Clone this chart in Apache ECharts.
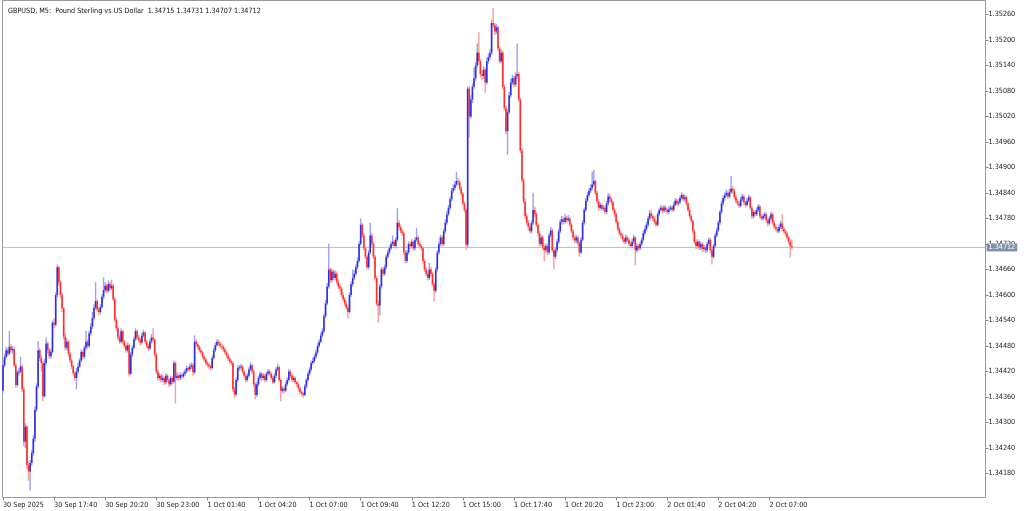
<!DOCTYPE html>
<html><head><meta charset="utf-8">
<script src="https://cdn.jsdelivr.net/npm/echarts@6/dist/echarts.min.js"></script>
<style>html,body{margin:0;padding:0;background:#fff}#c{width:1024px;height:511px}</style>
</head><body><div id="c"></div>
<script>
// GBPUSD M5 candles, values in 0.00001 above PRICE_BASE
const PRICE_BASE = 1.34;
const opens = [
375,435,455,470,462,478,470,473,435,388, 418,420,432,378,255,290,200,185,205,228,
262,330,385,470,452,440,362,440,486,470, 456,466,535,530,600,665,630,600,568,502,
476,490,462,446,432,416,405,420,432,446, 466,455,476,490,480,510,526,546,570,586,
566,560,572,596,612,622,610,626,616,622, 590,542,522,500,490,515,490,480,470,482,
415,460,476,496,515,500,495,488,505,512, 490,480,474,490,500,495,460,420,405,410,
400,405,395,410,400,390,405,396,440,405, 410,405,412,408,415,420,428,425,432,435,
418,490,484,478,470,465,455,448,440,436, 432,428,452,470,482,490,486,480,478,472,
465,458,450,444,440,378,366,400,428,430, 432,420,410,400,410,425,435,420,390,365,
390,405,415,405,410,400,415,420,415,405, 395,410,425,430,400,375,380,375,390,400,
420,410,400,405,395,390,380,372,368,365, 385,400,415,425,440,445,455,465,480,490,
505,515,550,580,620,660,635,655,640,650, 630,620,615,600,590,580,570,560,600,625,
640,650,665,680,720,765,740,710,690,665, 700,740,720,690,640,580,575,620,660,650,
665,690,700,710,720,725,715,730,770,760, 750,745,700,680,700,720,715,725,710,730,
735,720,715,710,680,660,650,640,660,650, 625,610,660,700,720,735,720,750,770,790,
805,825,845,852,860,868,865,850,838,815, 800,718,1085,1020,1060,1090,1110,1140,1170,1150,
1120,1115,1130,1100,1150,1160,1170,1240,1235,1220, 1230,1180,1150,1170,1090,1040,985,1030,1070,1100,
1110,1095,1115,1120,1060,940,870,820,785,770, 760,750,770,800,790,765,745,720,735,712,
705,715,700,740,752,705,690,705,725,750, 772,778,772,782,776,780,765,750,735,728,
735,722,700,730,770,800,822,835,845,852, 860,868,840,820,805,812,803,805,795,815,
832,825,818,800,790,772,755,745,740,732, 725,735,730,720,715,725,735,705,715,710,
720,730,745,755,765,780,792,785,780,772, 765,790,800,805,798,806,800,795,802,806,
800,812,822,815,818,828,835,825,830,815, 800,785,775,750,725,715,725,712,720,708,
712,705,720,730,705,690,715,740,752,770, 795,815,828,835,840,832,842,850,845,830,
822,815,810,825,832,818,812,822,830,805, 785,795,790,800,808,785,780,785,790,775,
768,780,790,770,760,755,750,760,768,755, 750,745,735,725,715
];
const closes = [
435,455,470,462,478,470,473,435,388,418, 420,432,378,255,290,200,185,205,228,262,
330,385,470,452,440,362,440,486,470,456, 466,535,530,600,665,630,600,568,502,476,
490,462,446,432,416,405,420,432,446,466, 455,476,490,480,510,526,546,570,586,566,
560,572,596,612,622,610,626,616,622,590, 542,522,500,490,515,490,480,470,482,415,
460,476,496,515,500,495,488,505,512,490, 480,474,490,500,495,460,420,405,410,400,
405,395,410,400,390,405,396,440,405,410, 405,412,408,415,420,428,425,432,435,418,
490,484,478,470,465,455,448,440,436,432, 428,452,470,482,490,486,480,478,472,465,
458,450,444,440,378,366,400,428,430,432, 420,410,400,410,425,435,420,390,365,390,
405,415,405,410,400,415,420,415,405,395, 410,425,430,400,375,380,375,390,400,420,
410,400,405,395,390,380,372,368,365,385, 400,415,425,440,445,455,465,480,490,505,
515,550,580,620,660,635,655,640,650,630, 620,615,600,590,580,570,560,600,625,640,
650,665,680,720,765,740,710,690,665,700, 740,720,690,640,580,575,620,660,650,665,
690,700,710,720,725,715,730,770,760,750, 745,700,680,700,720,715,725,710,730,735,
720,715,710,680,660,650,640,660,650,625, 610,660,700,720,735,720,750,770,790,805,
825,845,852,860,868,865,850,838,815,800, 718,1085,1020,1060,1090,1110,1140,1170,1150,1120,
1115,1130,1100,1150,1160,1170,1240,1235,1220,1230, 1180,1150,1170,1090,1040,985,1030,1070,1100,1110,
1095,1115,1120,1060,940,870,820,785,770,760, 750,770,800,790,765,745,720,735,712,705,
715,700,740,752,705,690,705,725,750,772, 778,772,782,776,780,765,750,735,728,735,
722,700,730,770,800,822,835,845,852,860, 868,840,820,805,812,803,805,795,815,832,
825,818,800,790,772,755,745,740,732,725, 735,730,720,715,725,735,705,715,710,720,
730,745,755,765,780,792,785,780,772,765, 790,800,805,798,806,800,795,802,806,800,
812,822,815,818,828,835,825,830,815,800, 785,775,750,725,715,725,712,720,708,712,
705,720,730,705,690,715,740,752,770,795, 815,828,835,840,832,842,850,845,830,822,
815,810,825,832,818,812,822,830,805,785, 795,790,800,808,785,780,785,790,775,768,
780,790,770,760,755,750,760,768,755,750, 745,735,725,715,712
];
const highs = [
448,462,478,476,516,484,480,476,440,424, 428,455,436,385,298,294,208,212,236,270,
338,392,492,476,458,445,450,500,490,475, 474,540,545,606,672,668,636,605,572,510,
498,494,466,450,436,420,428,440,452,472, 470,482,516,495,516,534,560,578,630,590,
572,578,602,642,630,626,634,630,636,626, 594,548,526,505,522,518,494,484,488,486,
466,482,502,522,518,506,500,512,518,515, 494,485,496,508,522,498,464,425,416,414,
412,408,416,414,404,410,408,446,444,418, 414,418,416,420,426,434,432,438,442,440,
505,496,488,482,474,468,458,452,444,440, 436,458,476,488,496,494,490,486,482,476,
468,462,454,448,444,384,406,434,436,438, 436,424,414,416,430,442,438,424,394,396,
410,420,418,416,414,420,426,424,418,410, 416,430,438,434,404,386,384,396,406,426,
424,414,410,408,398,394,384,376,372,390, 405,420,430,446,452,460,472,486,496,512,
522,556,588,628,721,665,662,660,658,655, 636,626,620,606,595,586,575,606,632,660,
658,672,688,726,780,770,745,714,694,706, 770,746,725,694,645,588,626,666,665,672,
696,706,716,726,740,730,736,804,776,766, 756,750,706,706,726,726,732,728,736,758,
740,726,720,714,685,665,656,675,666,655, 630,666,706,726,742,740,756,778,798,812,
832,852,860,868,890,875,870,855,842,820, 805,1090,1092,1070,1098,1135,1148,1192,1218,1155,
1128,1138,1135,1158,1168,1178,1248,1276,1240,1238, 1234,1186,1178,1175,1095,1046,1036,1078,1108,1118,
1115,1124,1192,1125,1064,946,876,826,792,776, 766,776,840,808,795,770,750,742,740,718,
722,720,746,760,756,710,712,732,756,778, 786,784,790,786,788,784,770,755,740,742,
740,726,736,776,806,828,842,852,860,890, 895,872,845,825,818,816,812,810,822,840,
838,830,822,805,795,776,760,750,745,736, 742,740,734,725,732,742,738,722,720,726,
736,752,762,772,786,800,798,790,785,776, 796,806,812,810,812,810,804,808,812,810,
818,828,826,825,834,842,838,836,834,818, 805,790,778,755,730,732,728,726,724,718,
716,726,736,734,710,720,746,758,776,800, 822,834,842,848,845,850,880,856,850,835,
826,820,832,838,836,822,828,836,834,810, 800,800,806,814,812,790,792,796,794,780,
786,796,794,775,766,760,766,774,790,762, 755,750,740,730,731
];
const lows = [
370,430,450,455,458,465,462,430,382,384, 410,416,372,245,240,190,163,140,198,222,
255,325,380,445,420,350,358,435,462,450, 450,462,522,526,595,622,594,560,495,470,
470,455,440,426,410,398,378,415,428,442, 448,450,470,474,476,505,520,540,565,560,
552,555,568,590,606,604,605,610,612,585, 536,515,494,484,486,484,474,464,465,408,
412,455,472,492,494,488,482,484,500,485, 475,468,470,486,490,455,414,398,400,394,
396,388,390,395,384,386,390,392,345,400, 398,400,402,404,410,416,420,420,426,410,
414,478,472,465,460,450,442,435,430,426, 422,425,448,466,478,480,475,472,466,460,
452,445,438,434,372,358,362,395,422,424, 414,404,394,396,406,420,414,384,355,360,
385,400,398,400,394,396,410,410,400,390, 392,405,420,395,350,370,368,372,386,396,
404,394,396,390,384,375,366,362,358,362, 380,396,410,420,436,440,450,460,476,486,
500,510,545,576,615,628,630,634,635,625, 614,608,595,584,574,565,545,556,596,620,
635,645,660,676,716,734,704,684,660,660, 695,714,684,634,574,535,552,615,644,645,
660,685,695,705,715,710,710,726,754,745, 738,694,674,675,695,708,710,704,705,725,
715,710,704,674,654,644,634,635,644,620, 585,605,655,695,715,714,716,745,765,785,
800,820,840,846,855,858,845,832,810,794, 705,712,970,1015,1052,1085,1104,1135,1142,1112,
1105,1108,1075,1095,1144,1154,1165,1228,1212,1214, 1174,1144,1145,1084,1034,978,930,1025,1064,1094,
1088,1090,1108,1054,934,864,814,778,764,752, 744,745,765,784,760,738,714,715,706,680,
700,694,696,735,700,660,684,700,720,745, 766,766,768,770,772,760,745,730,722,722,
716,690,696,726,765,796,818,830,840,846, 855,835,815,798,800,798,798,790,790,810,
820,812,795,784,766,750,740,734,726,720, 720,724,715,710,710,720,670,700,704,705,
715,726,740,750,760,775,780,774,766,760, 762,785,796,792,794,795,790,790,798,795,
796,808,810,810,814,824,820,820,810,795, 780,770,745,720,708,710,706,706,702,702,
698,700,715,698,672,686,710,735,748,765, 790,810,822,830,826,828,838,838,825,816,
810,804,806,820,812,806,808,818,800,780, 780,784,786,795,780,775,775,780,770,762,
764,775,765,755,750,745,746,755,750,745, 740,730,720,688,707
];
const priceTicks = [1.35260,1.35200,1.35140,1.35080,1.35020,1.34960,1.34900,1.34840,1.34780,1.34720,1.34660,1.34600,1.34540,1.34480,1.34420,1.34360,1.34300,1.34240,1.34180];
const timeTickBars = [0,32,64,96,128,160,192,224,256,288,320,352,384,416,448,480];
const timeTickLabels = ['30 Sep 2025','30 Sep 17:40','30 Sep 20:20','30 Sep 23:00','1 Oct 01:40','1 Oct 04:20','1 Oct 07:00','1 Oct 09:40','1 Oct 12:20','1 Oct 15:00','1 Oct 17:40','1 Oct 20:20','1 Oct 23:00','2 Oct 01:40','2 Oct 04:20','2 Oct 07:00'];
const lastPrice = 1.34712;
const headerText = 'GBPUSD, M5:  Pound Sterling vs US Dollar  1.34715 1.34731 1.34707 1.34712';

const FONT = '"DejaVu Sans Condensed","DejaVu Sans",sans-serif';
const FS = 7.2;
const X_MIN = -0.3125, X_MAX = 615.3125;
const px = v => +(PRICE_BASE + v / 100000).toFixed(5);
const candles = opens.map((o, i) => [i, px(o), px(closes[i]), px(lows[i]), px(highs[i])]);

const UP = '#2f2fe0', DOWN = '#ff2d2d', UPW = '#9ea1f0', DOWNW = '#f59e9e';

const chart = echarts.init(document.getElementById('c'), null, {renderer: 'canvas'});
chart.setOption({
  animation: false,
  backgroundColor: '#ffffff',
  title: {text: headerText, left: 3, top: 3,
    textStyle: {fontSize: FS, fontWeight: 'normal', color: '#111', fontFamily: FONT}},
  grid: {left: 0.5, top: 0.5, right: 38.5, bottom: 13.5, show: true, borderColor: '#9a9a9a', borderWidth: 1},
  xAxis: {
    type: 'value', min: X_MIN, max: X_MAX,
    splitLine: {show: false}, axisLine: {show: false, onZero: false},
    axisTick: {show: true, inside: false, customValues: timeTickBars, length: 3, lineStyle: {color: '#8a8a8a'}},
    axisLabel: {customValues: timeTickBars, formatter: v => timeTickLabels[timeTickBars.indexOf(v)] || '',
      align: 'left', fontSize: FS, margin: 4, color: '#222', fontFamily: FONT}
  },
  yAxis: {
    type: 'value', position: 'right', min: 1.3412353, max: 1.3529294, scale: true,
    splitLine: {show: false}, axisLine: {show: false, onZero: false},
    axisTick: {show: true, inside: false, customValues: priceTicks, length: 3, lineStyle: {color: '#8a8a8a'}},
    axisLabel: {customValues: priceTicks, formatter: v => v.toFixed(5), fontSize: FS, margin: 3,
      color: '#222', fontFamily: FONT}
  },
  series: [
    {
      type: 'line', name: 'price line', z: 1, silent: true, clip: false,
      symbol: 'none', data: [[X_MIN, lastPrice], [X_MAX, lastPrice]],
      lineStyle: {color: '#b5bdca', width: 1},
      endLabel: {show: true, formatter: lastPrice.toFixed(5), color: '#ffffff',
        backgroundColor: '#8191a8', fontSize: FS, fontFamily: FONT, padding: [1, 2, 0, 2], distance: 1}
    },
    {
      type: 'custom', name: 'wicks', z: 2, clip: true, data: candles,
      encode: {x: 0, y: [3, 4]},
      renderItem: (params, api) => {
        const x = api.value(0), o = api.value(1), c = api.value(2), l = api.value(3), h = api.value(4);
        const pH = api.coord([x, h]), pL = api.coord([x, l]);
        return {type: 'line', shape: {x1: pH[0], y1: pH[1], x2: pL[0], y2: pL[1]},
          style: {stroke: c >= o ? UPW : DOWNW, lineWidth: 1.4}};
      }
    },
    {
      type: 'custom', name: 'bodies', z: 3, clip: true, data: candles,
      encode: {x: 0, y: [1, 2]},
      renderItem: (params, api) => {
        const x = api.value(0), o = api.value(1), c = api.value(2);
        const pO = api.coord([x, o]), pC = api.coord([x, c]);
        const top = Math.min(pO[1], pC[1]);
        const hgt = Math.max(1, Math.abs(pO[1] - pC[1]));
        return {type: 'rect', shape: {x: pO[0] - 0.8, y: top, width: 1.6, height: hgt},
          style: {fill: c >= o ? UP : DOWN}};
      }
    }
  ]
});
</script></body></html>
